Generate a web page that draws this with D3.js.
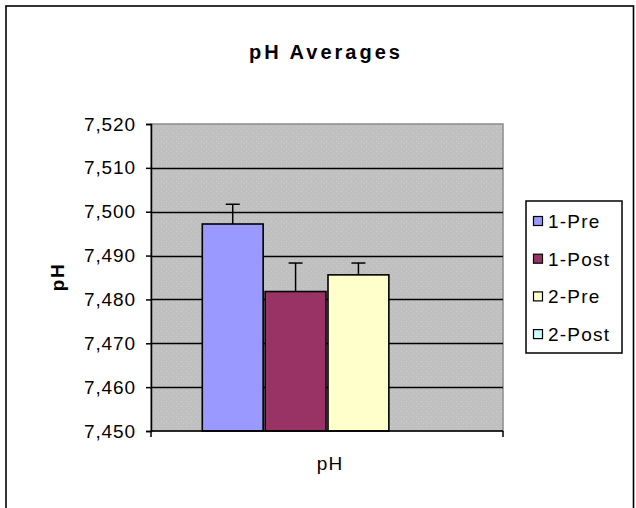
<!DOCTYPE html>
<html>
<head>
<meta charset="utf-8">
<script src="https://cdn.jsdelivr.net/npm/d3@7"></script>
<style>
  body { margin: 0; background: #fff; }
  svg text { font-family: "Liberation Sans", Arial, sans-serif; fill: #000; }
</style>
</head>
<body>
<svg id="chart" width="636" height="508"></svg>
<script>
// data
var categories = ["pH"];
var seriesNames = ["1-Pre", "1-Post", "2-Pre", "2-Post"];
var seriesValues = [7.4972, 7.4818, 7.4856, null];
var errorPlus = [0.0045, 0.0065, 0.0027, null];
var seriesColors = ["#9999FF", "#993366", "#FFFFCC", "#CCFFFF"];
var yTicks = [7.45, 7.46, 7.47, 7.48, 7.49, 7.50, 7.51, 7.52];

var svg = d3.select("#chart");

var plot = { left: 151, right: 503, top: 124, bottom: 431 };

var locale = d3.formatLocale({ decimal: ",", thousands: ".", grouping: [3], currency: ["", ""] });
var fmt = locale.format(".3f");

var y = d3.scaleLinear().domain([7.45, 7.52]).range([plot.bottom, plot.top]);
var x0 = d3.scaleBand().domain(categories).range([plot.left, plot.right])
  .paddingInner(0).paddingOuter(0.2);
var x1 = d3.scaleBand().domain(seriesNames).range([0, x0.bandwidth()]).padding(0);

// outer frame (cut off at the bottom like the source)
svg.append("rect")
  .attr("x", 6).attr("y", 6).attr("width", 627.5).attr("height", 520)
  .attr("fill", "#fff").attr("stroke", "#000").attr("stroke-width", 1.6);

// dotted grey plot background
var defs = svg.append("defs");
var pat = defs.append("pattern").attr("id", "dots")
  .attr("width", 5).attr("height", 5).attr("patternUnits", "userSpaceOnUse");
pat.append("rect").attr("width", 5).attr("height", 5).attr("fill", "#c0c0c0");
pat.append("rect").attr("x", 1).attr("y", 1).attr("width", 1).attr("height", 1).attr("fill", "#cdcdcd");
pat.append("rect").attr("x", 3).attr("y", 3).attr("width", 1).attr("height", 1).attr("fill", "#cacaca");

svg.append("rect")
  .attr("x", plot.left).attr("y", plot.top)
  .attr("width", plot.right - plot.left).attr("height", plot.bottom - plot.top)
  .attr("fill", "url(#dots)").attr("stroke", "#8c8c8c").attr("stroke-width", 1.5);

// gridlines
svg.append("g").selectAll("line")
  .data(yTicks.slice(1, -1))
  .enter().append("line")
  .attr("x1", plot.left).attr("x2", plot.right)
  .attr("y1", function(d) { return Math.round(y(d)) + 0.5; })
  .attr("y2", function(d) { return Math.round(y(d)) + 0.5; })
  .attr("stroke", "#000").attr("stroke-width", 1.3);

var barData = seriesNames.map(function(n, i) {
  return { name: n, value: seriesValues[i], err: errorPlus[i], color: seriesColors[i] };
}).filter(function(d) { return d.value != null; });

// bars
svg.append("g").selectAll("rect")
  .data(barData)
  .enter().append("rect")
  .attr("x", function(d) { return x0("pH") + x1(d.name) + 1; })
  .attr("y", function(d) { return y(d.value); })
  .attr("width", x1.bandwidth() - 2)
  .attr("height", function(d) { return plot.bottom - y(d.value); })
  .attr("fill", function(d) { return d.color; })
  .attr("stroke", "#000").attr("stroke-width", 1.6);

// error bars (plus only)
var err = svg.append("g").selectAll("g")
  .data(barData)
  .enter().append("g")
  .attr("transform", function(d) {
    return "translate(" + (x0("pH") + x1(d.name) + x1.bandwidth() / 2) + ",0)";
  });

err.append("line")
  .attr("x1", 0).attr("x2", 0)
  .attr("y1", function(d) { return y(d.value); })
  .attr("y2", function(d) { return y(d.value + d.err); })
  .attr("stroke", "#000").attr("stroke-width", 1.5);
err.append("line")
  .attr("x1", -7).attr("x2", 7)
  .attr("y1", function(d) { return y(d.value + d.err); })
  .attr("y2", function(d) { return y(d.value + d.err); })
  .attr("stroke", "#000").attr("stroke-width", 1.5);

// y axis
var yAxis = svg.append("g")
  .attr("transform", "translate(" + plot.left + ",0)")
  .call(d3.axisLeft(y).tickValues(yTicks).tickFormat(fmt).tickSize(5).tickPadding(10));
yAxis.select(".domain").attr("stroke", "#000").attr("stroke-width", 1.5);
yAxis.selectAll(".tick line").attr("stroke", "#000").attr("stroke-width", 1.5);
yAxis.selectAll(".tick text")
  .style("font-family", "'Liberation Sans', Arial, sans-serif")
  .style("font-size", "19px").style("letter-spacing", "0.9px")
  .attr("fill", "#000");

// x axis
var xAxis = svg.append("g")
  .attr("transform", "translate(0," + plot.bottom + ")");
xAxis.append("line")
  .attr("x1", plot.left).attr("x2", plot.right)
  .attr("stroke", "#000").attr("stroke-width", 1.5);
xAxis.selectAll(".edge")
  .data([plot.left, plot.right])
  .enter().append("line")
  .attr("x1", function(d) { return d; }).attr("x2", function(d) { return d; })
  .attr("y1", 0).attr("y2", 6)
  .attr("stroke", "#000").attr("stroke-width", 1.5);
xAxis.selectAll(".cat")
  .data(categories)
  .enter().append("text")
  .attr("x", function(d) { return x0(d) + x0.bandwidth() / 2 + 3; })
  .attr("y", 39)
  .attr("text-anchor", "middle")
  .style("font-size", "19px").style("letter-spacing", "1.2px")
  .text(function(d) { return d; });

// title
svg.append("text")
  .attr("x", 326).attr("y", 59)
  .attr("text-anchor", "middle")
  .style("font-size", "20px").style("font-weight", "bold").style("letter-spacing", "3px")
  .text("pH Averages");

// y axis title
svg.append("text")
  .attr("transform", "translate(64,277) rotate(-90)")
  .attr("text-anchor", "middle")
  .style("font-size", "19px").style("font-weight", "bold").style("letter-spacing", "1.5px")
  .text("pH");

// legend
var legend = svg.append("g");
legend.append("rect")
  .attr("x", 526).attr("y", 201).attr("width", 96).attr("height", 152)
  .attr("fill", "#fff").attr("stroke", "#000").attr("stroke-width", 1.5);

var item = legend.selectAll(".item")
  .data(seriesNames)
  .enter().append("g")
  .attr("transform", function(d, i) { return "translate(0," + (221 + i * 37.7) + ")"; });
item.append("rect")
  .attr("x", 533.5).attr("y", -4.5).attr("width", 9).attr("height", 9)
  .attr("fill", function(d, i) { return seriesColors[i]; })
  .attr("stroke", "#000").attr("stroke-width", 1.2);
item.append("text")
  .attr("x", 548).attr("y", 7)
  .style("font-size", "19px").style("letter-spacing", "1.2px")
  .text(function(d) { return d; });
</script>
</body>
</html>
